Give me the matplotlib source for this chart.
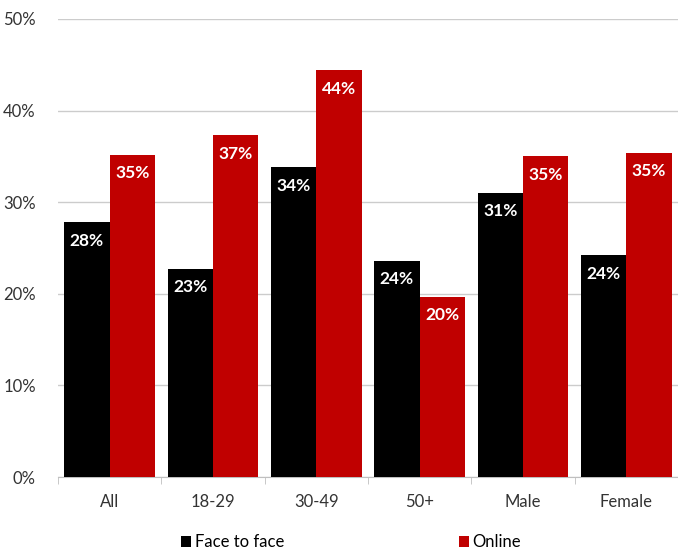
import matplotlib.pyplot as plt
import numpy as np

plt.rcParams['font.family'] = ['Lato', 'DejaVu Sans']

groups = ["All", "18-29", "30-49", "50+", "Male", "Female"]
face_to_face = [27.8, 22.7, 33.8, 23.6, 31.0, 24.2]
online = [35.2, 37.3, 44.4, 19.7, 35.0, 35.4]
series_names = ["Face to face", "Online"]
colors = ["#000000", "#c00000"]

fig = plt.figure(figsize=(6.78, 5.49), dpi=100)
ax = fig.add_axes([0.0855, 0.131, 0.9145, 0.8344])

x = np.arange(len(groups))
w = 0.44
b1 = ax.bar(x - w / 2, face_to_face, w, color=colors[0], label=series_names[0], zorder=3)
b2 = ax.bar(x + w / 2, online, w, color=colors[1], label=series_names[1], zorder=3)

for bars in (b1, b2):
    for bar in bars:
        h = bar.get_height()
        ax.text(bar.get_x() + bar.get_width() / 2, h - 2.0, f"{round(h):d}%",
                ha="center", va="center", color="white", fontsize=12.5,
                fontweight="bold", zorder=4)

ax.set_xlim(-0.5, len(groups) - 0.5)
ax.set_ylim(0, 50)
ax.set_yticks(range(0, 51, 10))
ax.set_yticklabels([f"{v}%" for v in range(0, 51, 10)], fontsize=12, color="#333333")
ax.set_xticks(x)
ax.set_xticklabels(groups, fontsize=12, color="#333333")
ax.set_xticks(np.arange(-0.5, len(groups), 1), minor=True)
ax.tick_params(axis="x", which="major", length=0, pad=12)
ax.tick_params(axis="x", which="minor", length=5, color="#bfbfbf")
ax.tick_params(axis="y", length=0, pad=16)

ax.grid(axis="y", color="#cccccc", linewidth=1, zorder=0)
for s in ["top", "right", "left"]:
    ax.spines[s].set_visible(False)
ax.spines["bottom"].set_color("#bfbfbf")

ax.legend(loc="center", bbox_to_anchor=(0.473, -0.142), ncol=2, frameon=False,
          fontsize=12, handlelength=0.6, handleheight=0.6, handletextpad=0.2,
          columnspacing=10.5, borderaxespad=0)

fig.savefig("out.png", dpi=100)
